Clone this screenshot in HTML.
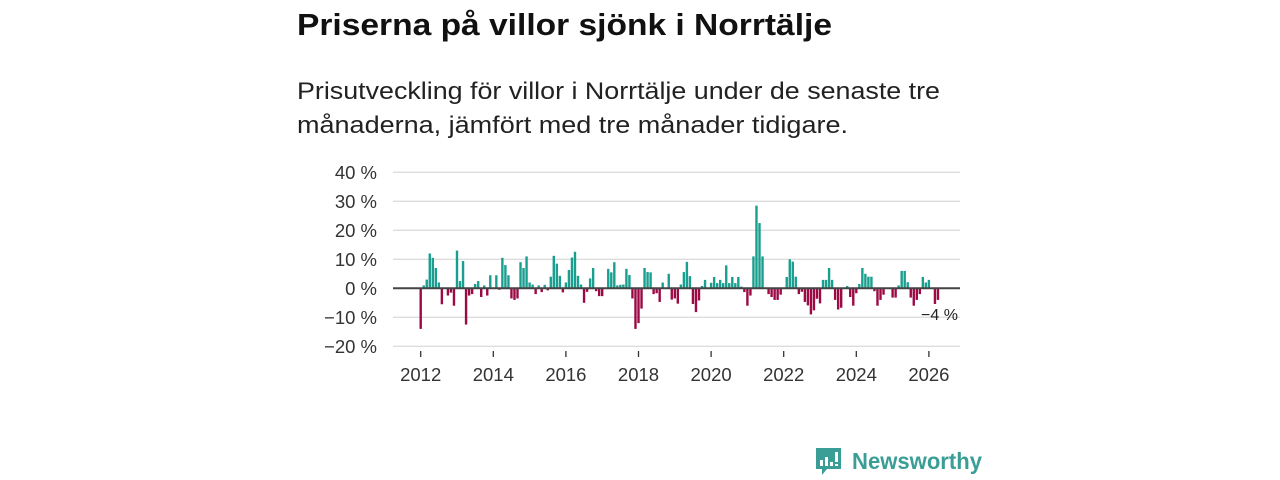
<!DOCTYPE html>
<html><head><meta charset="utf-8"><style>
body{margin:0;background:#fff;width:1280px;height:480px;overflow:hidden}
svg{display:block;font-family:"Liberation Sans",sans-serif}
</style></head><body>
<svg id="chart" width="1280" height="480" viewBox="0 0 1280 480" xmlns="http://www.w3.org/2000/svg">
<text x="297" y="35" font-size="31" font-weight="bold" fill="#111" textLength="535" lengthAdjust="spacingAndGlyphs">Priserna på villor sjönk i Norrtälje</text>
<text x="297" y="99" font-size="24" fill="#222" textLength="643" lengthAdjust="spacingAndGlyphs">Prisutveckling för villor i Norrtälje under de senaste tre</text>
<text x="297" y="133" font-size="24" fill="#222" textLength="551" lengthAdjust="spacingAndGlyphs">månaderna, jämfört med tre månader tidigare.</text>
<g id="grid"></g>
<g id="bars"></g>
<g id="axes"></g>
<g>
<path d="M816 448h25v21h-14l-5 6v-6h-6z" fill="#3a9e96"/>
<rect x="820" y="460" width="3" height="6" fill="#fff"/><rect x="825" y="457" width="3" height="9" fill="#fff"/><rect x="830" y="462" width="3" height="4" fill="#fff"/><rect x="835" y="452" width="3" height="10" fill="#fff"/><rect x="835" y="464" width="3" height="2" fill="#fff"/>
<text x="852" y="469" font-size="23" font-weight="bold" fill="#3a9e96" textLength="130" lengthAdjust="spacingAndGlyphs">Newsworthy</text>
</g>
</svg>
<script>
const values = [
-14,1,3,12,10.5,7,2,-5.5,0,-2.5,-1.5,-6,
13,2.5,9.4,-12.5,-2.5,-2,1.5,2.5,-3,1,-2.5,4.5,
0,4.5,-0.5,10.5,8,4.5,-3.5,-4,-3.5,9,7,11,
2,1.3,-2,1,-1.3,1.2,-0.7,4,11.2,8.5,4.3,-1.4,
2,6.3,10.6,12.6,4.3,1.3,-5,-1.2,3.4,7,-1,-2.7,
-2.7,0,6.7,5.5,9,1,1.2,1.3,6.7,4.6,-3.5,-14,
-12,-7,7,5.6,5.5,-2,-1.7,-4.7,2,0,5,-3.9,
-3.5,-5.3,1.3,5.6,9.1,4.2,-5.4,-8.2,-4.2,0.8,2.9,0,
1.9,3.9,1.8,2.9,1.8,7.9,1.8,3.9,1.8,3.9,0.6,-1.3,
-6,-2.5,11,28.5,22.5,11,0,-2,-3,-4,-4,-2.2,
0,3.9,10,9.2,4,-2,-1.2,-4.7,-5.9,-9,-7.6,-3.6,
-5.2,2.9,2.9,7,2.9,-4,-7.3,-6.7,0,0.8,-3,-6,
-1.7,1.5,7,5,4,4,-1,-6,-4,-2.2,0,0,
-3.2,-3.2,1,6,6,2.1,-3.2,-6,-4,-2,3.9,2,
2.9,0,-5.4,-4
];
const startYear = 2012;
const yTicks = [40,30,20,10,0,-10,-20];
const xTicks = [2012,2014,2016,2018,2020,2022,2024,2026];
const lastLabel = "−4 %";

const NS="http://www.w3.org/2000/svg";
const y = v => 288.3 - v*2.9;
const x = t => 420.7 + (t-startYear)*36.3;
function mk(tag, attrs, parent){const e=document.createElementNS(NS,tag);for(const k in attrs)e.setAttribute(k,attrs[k]);parent.appendChild(e);return e;}
const grid=document.getElementById('grid'), bars=document.getElementById('bars'), axes=document.getElementById('axes');
yTicks.forEach(v=>{
  if(v!==0){const l=mk('line',{x1:393,x2:960,y1:y(v),y2:y(v),stroke:'#ddd','stroke-width':1.3},grid);
  
  }
  const t=mk('text',{x:377,y:y(v)+6.5,'font-size':18.5,fill:'#333','text-anchor':'end'},axes);
  t.textContent=(v<0?'−'+(-v):v)+' %';
  
  
});
values.forEach((v,i)=>{
  if(v===0)return;
  const cx=x(startYear+i/12);
  const r=mk('rect',{x:cx-1.2,width:2.4,y:Math.min(y(v),y(0)),height:Math.abs(y(v)-y(0)),fill:v>0?'#1a9e8f':'#9b0a45'},bars);
  
  
});
const z=mk('line',{x1:393,x2:960,y1:y(0),y2:y(0),stroke:'#444','stroke-width':2},axes);


xTicks.forEach(t=>{
  const tk=mk('line',{x1:x(t),x2:x(t),y1:351,y2:357,stroke:'#333','stroke-width':1.3},axes);
  
  
  const lb=mk('text',{x:x(t),y:381,'font-size':18.5,fill:'#333','text-anchor':'middle'},axes);
  lb.textContent=t;
  
  
});
const li=values.length-1;
const ll=mk('text',{x:x(startYear+li/12)+20,y:y(values[li])+20,'font-size':16,fill:'#222','text-anchor':'end'},axes);
ll.textContent=lastLabel;


</script>
</body></html>
